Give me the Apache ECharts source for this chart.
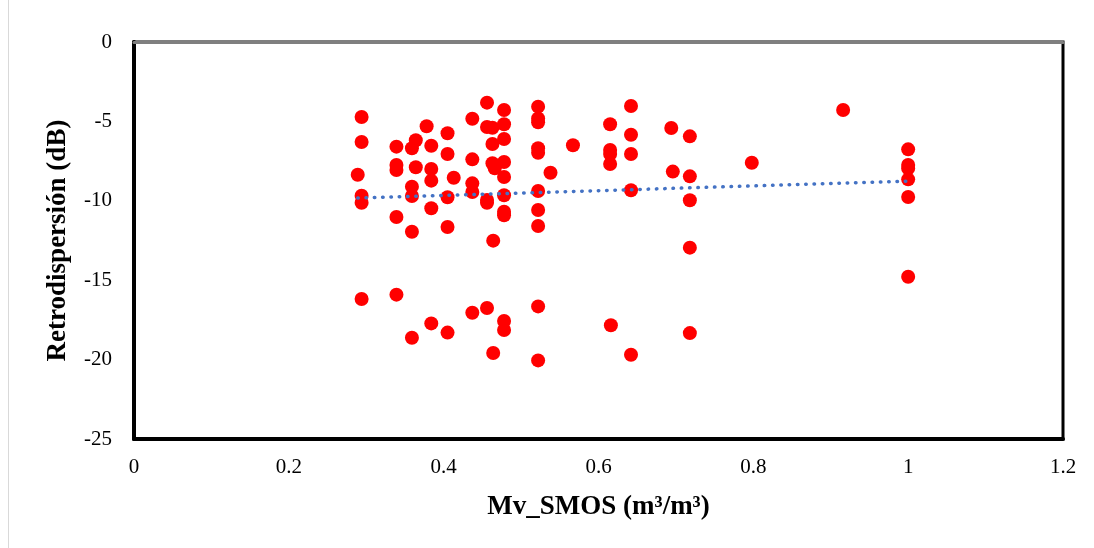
<!DOCTYPE html>
<html>
<head>
<meta charset="utf-8">
<script src="https://cdn.jsdelivr.net/npm/echarts@6/dist/echarts.min.js"></script>
<style>
  html, body { margin: 0; padding: 0; background: #fff; }
  #chart { width: 1094px; height: 548px; }
</style>
</head>
<body>
<div id="chart"></div>
<script>
// soil moisture (m3/m3)
var mvSmos = [
  0.289, 0.294, 0.294, 0.294, 0.294, 0.294,
  0.339, 0.339, 0.339, 0.339, 0.339,
  0.359, 0.359, 0.359, 0.359, 0.359, 0.364, 0.364,
  0.378, 0.384, 0.384, 0.384, 0.384, 0.384,
  0.405, 0.405, 0.405, 0.405, 0.405, 0.413,
  0.437, 0.437, 0.437, 0.437, 0.437,
  0.456, 0.456, 0.456, 0.456, 0.456,
  0.463, 0.463, 0.463, 0.466, 0.464, 0.464,
  0.478, 0.478, 0.478, 0.478, 0.478, 0.478, 0.478, 0.478, 0.478, 0.478,
  0.522, 0.522, 0.522, 0.522, 0.522, 0.522, 0.522, 0.522, 0.522, 0.522,
  0.538, 0.567,
  0.615, 0.615, 0.615, 0.615, 0.616,
  0.642, 0.642, 0.642, 0.642, 0.642,
  0.694, 0.696,
  0.718, 0.718, 0.718, 0.718, 0.718,
  0.798, 0.916,
  1.000, 1.000, 1.000, 1.000, 1.000, 1.000
];
// backscatter (dB)
var retro = [
  -8.36, -4.72, -6.30, -9.68, -10.12, -16.18,
  -6.59, -7.75, -8.06, -11.02, -15.91,
  -6.69, -9.11, -9.70, -11.95, -18.62, -6.19, -7.89,
  -5.31, -6.53, -8.00, -8.73, -10.47, -17.72,
  -5.75, -7.05, -9.78, -11.65, -18.30, -8.55,
  -4.83, -7.39, -8.90, -9.45, -17.05,
  -3.82, -5.35, -9.95, -10.12, -16.75,
  -5.40, -6.42, -7.64, -7.95, -12.51, -19.58,
  -4.28, -5.18, -6.11, -7.56, -8.50, -9.65, -10.69, -10.91, -17.57, -18.14,
  -4.07, -4.81, -5.06, -6.69, -6.97, -9.38, -10.58, -11.59, -16.65, -20.05,
  -8.23, -6.50,
  -5.18, -6.80, -7.05, -7.68, -17.84,
  -4.03, -5.84, -7.05, -9.34, -19.69,
  -5.42, -8.16,
  -5.94, -8.46, -9.97, -12.95, -18.33,
  -7.60, -4.28,
  -6.76, -7.75, -7.96, -8.65, -9.76, -14.78
];

var points = mvSmos.map(function (x, i) { return [x, retro[i]]; });

// linear trendline (least squares), drawn across the data's x range
function linearFit(xs, ys) {
  var n = xs.length, sx = 0, sy = 0, sxx = 0, sxy = 0;
  for (var i = 0; i < n; i++) {
    sx += xs[i]; sy += ys[i];
    sxx += xs[i] * xs[i]; sxy += xs[i] * ys[i];
  }
  var b = (n * sxy - sx * sy) / (n * sxx - sx * sx);
  var a = (sy - b * sx) / n;
  return { a: a, b: b };
}
var fit = linearFit(mvSmos, retro);
var xMin = Math.min.apply(null, mvSmos), xMax = Math.max.apply(null, mvSmos);
var trend = [[xMin, fit.a + fit.b * xMin], [xMax, fit.a + fit.b * xMax]];

var font = '"Liberation Serif", "Times New Roman", serif';

var chart = echarts.init(document.getElementById('chart'));
chart.setOption({
  animation: false,
  backgroundColor: '#fff',
  grid: {
    left: 134, right: 31, top: 42, bottom: 109,
    show: true, borderColor: '#000', borderWidth: 3
  },
  graphic: [{
    type: 'line',
    shape: { x1: 8.5, y1: 0, x2: 8.5, y2: 548 },
    style: { stroke: '#d9d9d9', lineWidth: 1 }
  }],
  xAxis: [{
    type: 'value',
    min: 0, max: 1.2, interval: 0.2,
    name: 'Mv_SMOS (m³/m³)',
    nameLocation: 'middle',
    nameGap: 55,
    nameTextStyle: { fontFamily: font, fontWeight: 'bold', fontSize: 27, color: '#000' },
    axisLine: { onZero: false, lineStyle: { color: '#000', width: 4 } },
    axisTick: { show: false },
    splitLine: { show: false },
    axisLabel: {
      margin: 18, fontFamily: font, fontSize: 21, color: '#000',
      formatter: function (v) { return String(+v.toFixed(1)); }
    }
  }, {
    type: 'value',
    position: 'top',
    min: 0, max: 1.2,
    axisLine: { show: true, onZero: false, lineStyle: { color: '#7f7f7f', width: 3 } },
    axisTick: { show: false },
    axisLabel: { show: false },
    splitLine: { show: false }
  }],
  yAxis: {
    type: 'value',
    min: -25, max: 0, interval: 5,
    name: 'Retrodispersión (dB)',
    nameLocation: 'middle',
    nameGap: 62,
    nameTextStyle: { fontFamily: font, fontWeight: 'bold', fontSize: 27, color: '#000' },
    axisLine: { show: true, onZero: false, lineStyle: { color: '#000', width: 4 } },
    axisTick: { show: false },
    splitLine: { show: false },
    axisLabel: { margin: 22, fontFamily: font, fontSize: 21, color: '#000' }
  },
  series: [{
    name: 'Retrodispersión',
    type: 'scatter',
    data: points,
    symbolSize: 14,
    itemStyle: { color: '#ff0000', opacity: 1 }
  }, {
    name: 'Lineal',
    type: 'line',
    data: trend,
    symbol: 'none',
    z: 3,
    lineStyle: { color: '#4472c4', width: 3.5, type: [0.5, 7.8], cap: 'round' }
  }]
});
</script>
</body>
</html>
